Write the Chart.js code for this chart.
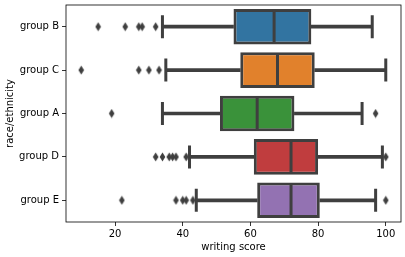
<!DOCTYPE html>
<html><head><meta charset="utf-8">
<script src="https://cdn.jsdelivr.net/npm/chart.js@4"></script>
<style>html,body{margin:0;padding:0;background:#fff}#wrap{width:405px;height:257px}</style>
</head><body><div id="wrap"><canvas id="c" width="405" height="257"></canvas></div>
<script>
const categories = ['group B', 'group C', 'group A', 'group D', 'group E'];
const whiskerLow = [34, 35, 34, 42, 44];
const q1 = [55, 57, 51, 61, 62];
const median = [67, 68, 62, 72, 72];
const q3 = [78, 79, 73, 80, 80.5];
const whiskerHigh = [96, 100, 93, 99, 97];
const outliersB = [15, 23, 27, 28, 32];
const outliersC = [10, 27, 30, 33];
const outliersA = [19, 97];
const outliersD = [32, 34, 36, 37, 38, 41, 100];
const outliersE = [22, 38, 40, 41, 43, 100];
const outliers = [outliersB, outliersC, outliersA, outliersD, outliersE];
const xTicks = [20, 40, 60, 80, 100];
const xMin = 5.5, xMax = 104.5;

const boxColors = ['#3274a1', '#e1812c', '#3a923a', '#c03d3e', '#9372b2'];
const edge = '#3f3f3f';
const FONT = {family: 'DejaVu Sans', size: 10};

// thin diamond marker
const dia = document.createElement('canvas');
dia.width = 7; dia.height = 10;
(function(){
  const g = dia.getContext('2d');
  g.fillStyle = edge;
  g.beginPath();
  g.moveTo(3.5, 0.5); g.lineTo(6.3, 5); g.lineTo(3.5, 9.5); g.lineTo(0.7, 5); g.closePath();
  g.fill();
})();

const framePlugin = {
  id: 'frame',
  afterDatasetsDraw(chart) {
    const {ctx, chartArea: a} = chart;
    ctx.save();
    ctx.strokeStyle = '#000';
    ctx.lineWidth = 0.8;
    ctx.strokeRect(a.left, a.top, a.right - a.left, a.bottom - a.top);
    ctx.restore();
  }
};

function zeroPad(s) { s.paddingTop = 0; s.paddingBottom = 0; s.paddingLeft = 0; s.paddingRight = 0; }

new Chart(document.getElementById('c'), {
  type: 'bar',
  data: {
    labels: categories,
    datasets: [
      {
        type: 'bar', indexAxis: 'y', grouped: false, order: 6,
        data: categories.map((c, i) => [whiskerLow[i], q1[i]]),
        backgroundColor: edge, barThickness: 3, borderWidth: 0
      },
      {
        type: 'bar', indexAxis: 'y', grouped: false, order: 6,
        data: categories.map((c, i) => [q3[i], whiskerHigh[i]]),
        backgroundColor: edge, barThickness: 3, borderWidth: 0
      },
      {
        type: 'bar', indexAxis: 'y', grouped: false, order: 4,
        data: categories.map((c, i) => [q1[i], q3[i]]),
        backgroundColor: boxColors, borderColor: edge, borderWidth: 3,
        borderSkipped: false, barPercentage: 0.82, categoryPercentage: 1
      },
      {
        type: 'scatter', order: 3,
        data: categories.map((c, i) => ({x: median[i], y: c})),
        pointStyle: 'line', rotation: 90, radius: 17, borderWidth: 3, borderColor: edge
      },
      {
        type: 'scatter', order: 2,
        data: categories.flatMap((c, i) => [{x: whiskerLow[i], y: c}, {x: whiskerHigh[i], y: c}]),
        pointStyle: 'line', rotation: 90, radius: 11.5, borderWidth: 3, borderColor: edge
      },
      {
        type: 'scatter', order: 1,
        data: categories.flatMap((c, i) => outliers[i].map(v => ({x: v, y: c}))),
        pointStyle: dia, radius: 4
      }
    ]
  },
  options: {
    indexAxis: 'y',
    responsive: false,
    animation: false,
    devicePixelRatio: 1,
    layout: {autoPadding: false, padding: {top: 5, right: 4, left: 0, bottom: 0}},
    plugins: {legend: {display: false}, tooltip: {enabled: false}},
    scales: {
      x: {
        type: 'linear', min: xMin, max: xMax,
        afterBuildTicks: s => { s.ticks = xTicks.map(v => ({value: v})); },
        afterFit: s => { s.height = 35; zeroPad(s); },
        grid: {display: true, drawOnChartArea: false, tickLength: 4, color: '#000', lineWidth: 0.8},
        border: {display: false},
        ticks: {color: '#000', font: FONT, padding: 2, maxRotation: 0},
        title: {display: true, text: 'writing score', color: '#000', font: FONT, padding: {top: 0, bottom: 4}}
      },
      y: {
        type: 'category', labels: categories, offset: true,
        afterFit: s => { s.width = 66; zeroPad(s); },
        grid: {display: true, offset: false, drawOnChartArea: false, tickLength: 4, color: '#000', lineWidth: 0.8},
        border: {display: false},
        ticks: {color: '#000', font: FONT, padding: 3},
        title: {display: true, text: 'race/ethnicity', color: '#000', font: FONT, padding: {top: 4, bottom: 2}}
      }
    }
  },
  plugins: [framePlugin]
});
</script>
</body></html>
